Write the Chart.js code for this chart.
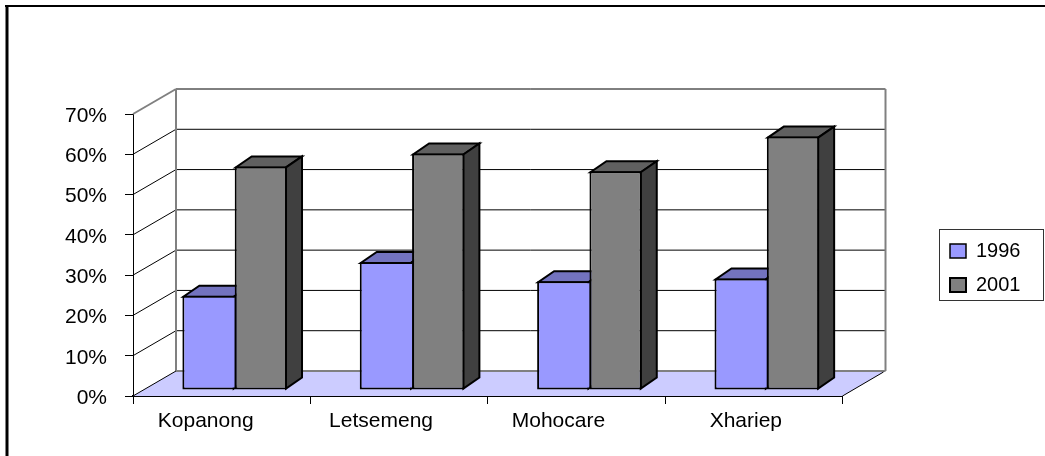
<!DOCTYPE html>
<html>
<head>
<meta charset="utf-8">
<script src="https://cdn.jsdelivr.net/npm/chart.js@4"></script>
<style>
html, body { margin: 0; padding: 0; background: #fff; overflow: hidden; }
#wrap { width: 1045px; height: 456px; }
</style>
</head>
<body>
<div id="wrap"><canvas id="myChart" width="1045" height="456"></canvas></div>
<script>
const categories = ['Kopanong', 'Letsemeng', 'Mohocare', 'Xhariep']
const years = ['1996', '2001']
const values1996 = [23.4, 31.8, 27.0, 27.7]
const values2001 = [55.5, 58.7, 54.3, 62.9]
const yTicks = [0, 10, 20, 30, 40, 50, 60, 70]

// oblique offsets of the fake 3D box
const wall = { dx: 43, dy: -25 }
const barShift = { dx: 13, dy: -6 }
const barDepth = { dx: 16, dy: -11 }
// the category labels are not centred under their slots in the original
const labelNudge = [-16, -18, -18, -8]
const fontFamily = '"Liberation Sans", Arial, sans-serif'
const axisFont = { family: fontFamily, size: 21 }
const legendFont = { family: fontFamily, size: 20 }

function poly(ctx, pts, fill, stroke, width) {
    ctx.beginPath()
    pts.forEach((p, i) => i ? ctx.lineTo(p[0], p[1]) : ctx.moveTo(p[0], p[1]))
    ctx.closePath()
    if (fill) { ctx.fillStyle = fill; ctx.fill() }
    if (stroke) { ctx.strokeStyle = stroke; ctx.lineWidth = width; ctx.stroke() }
}

function line(ctx, x1, y1, x2, y2, color, width) {
    ctx.beginPath()
    ctx.moveTo(x1, y1)
    ctx.lineTo(x2, y2)
    ctx.strokeStyle = color
    ctx.lineWidth = width
    ctx.stroke()
}

const box3d = {
    id: 'box3d',
    afterLayout(chart) {
        // legend sits away from the plot, move it to its own spot
        const l = chart.legend
        l.left = 936; l.right = 1044; l.width = 108
        l.top = 227; l.bottom = 456; l.height = 229
    },
    beforeDraw(chart) {
        const items = chart.scales.x.getLabelItems()
        items.forEach((item, i) => { item.options.translation[0] += labelNudge[i] })
    },
    beforeDatasetsDraw(chart) {
        const { ctx, chartArea: a, scales: { y } } = chart
        const d = wall
        ctx.save()
        ctx.lineCap = 'butt'

        // floor
        const y0 = y.getPixelForValue(0)
        poly(ctx, [[a.left, y0], [a.right, y0], [a.right + d.dx, y0 + d.dy], [a.left + d.dx, y0 + d.dy]], '#CCCCFF')

        // side wall and back wall grid
        yTicks.forEach(v => {
            const py = y.getPixelForValue(v)
            if (v > 0 && v < 70) line(ctx, a.left, py, a.left + d.dx, py + d.dy, '#000', 1)
            if (v > 0) line(ctx, a.left + d.dx, py + d.dy, a.right + d.dx, py + d.dy, '#000', 1)
        })
        const yTop = y.getPixelForValue(70)
        line(ctx, a.left, yTop, a.left + d.dx, yTop + d.dy, '#808080', 2)
        line(ctx, a.left + d.dx, yTop + d.dy, a.left + d.dx, y0 + d.dy, '#808080', 2)
        line(ctx, a.right + d.dx, yTop + d.dy, a.right + d.dx, y0 + d.dy, '#808080', 2)
        line(ctx, a.left + d.dx, y0 + d.dy, a.right + d.dx, y0 + d.dy, '#808080', 2)
        line(ctx, a.left, y0, a.left + d.dx, y0 + d.dy, '#000', 1)
        line(ctx, a.right, y0, a.right + d.dx - 2, y0 + d.dy + 1, '#000', 1)

        // tops and sides of the bars, the fronts come from chart.js
        ctx.translate(barShift.dx, barShift.dy)
        const faces = [['#7373BF', '#4D4D80'], ['#606060', '#404040']]
        const dd = barDepth
        chart.data.datasets.forEach((ds, i) => {
            chart.getDatasetMeta(i).data.forEach(bar => {
                const { x, y: top, base, width } = bar.getProps(['x', 'y', 'base', 'width'], true)
                const l = x - width / 2 + 1, r = x + width / 2 - 1
                poly(ctx, [[l, top + 1], [r, top + 1], [r + dd.dx, top + 1 + dd.dy], [l + dd.dx, top + 1 + dd.dy]], faces[i][0], '#000', 2)
                poly(ctx, [[r, top + 1], [r + dd.dx, top + 1 + dd.dy], [r + dd.dx, base - 1 + dd.dy], [r, base - 1]], faces[i][1], '#000', 2)
            })
        })
        ctx.restore()

        ctx.save()
        ctx.translate(barShift.dx, barShift.dy)
    },
    afterDatasetsDraw(chart) {
        chart.ctx.restore()
    },
    afterDraw(chart) {
        const { ctx } = chart
        ctx.save()
        // legend frame and the two page edges that show
        ctx.strokeStyle = '#333'
        ctx.lineWidth = 1
        ctx.strokeRect(939.5, 229.5, 104, 71)
        line(ctx, 7, 456, 7, 5, '#000', 3)
        line(ctx, 5, 6, 1045, 6, '#000', 2)
        ctx.restore()
    }
}

new Chart(document.getElementById('myChart'), {
    type: 'bar',
    data: {
        labels: categories,
        datasets: [
            { label: years[0], data: values1996, backgroundColor: '#9999FF', borderColor: '#000',
              borderWidth: { top: 2, right: 0, bottom: 2, left: 2 }, borderSkipped: false },
            { label: years[1], data: values2001, backgroundColor: '#808080', borderColor: '#000',
              borderWidth: 2, borderSkipped: false }
        ]
    },
    plugins: [box3d],
    options: {
        responsive: false,
        animation: false,
        events: [],
        layout: { padding: { left: 0, top: 114, right: 108, bottom: 0 } },
        datasets: { bar: { categoryPercentage: 0.59, barPercentage: 1 } },
        plugins: {
            title: { display: false },
            tooltip: { enabled: false },
            legend: {
                position: 'right',
                align: 'start',
                labels: {
                    color: '#000',
                    font: legendFont,
                    boxWidth: 16,
                    boxHeight: 14,
                    padding: 14
                }
            }
        },
        scales: {
            x: {
                grid: { drawOnChartArea: false, color: '#000', tickLength: 8, tickColor: '#000' },
                border: { color: '#000', width: 2 },
                ticks: { color: '#000', font: axisFont, maxRotation: 0, padding: 5 },
                afterFit(s) { s.height = 60 }
            },
            y: {
                min: 0,
                max: 70,
                afterBuildTicks(s) { s.ticks = yTicks.map(v => ({ value: v })) },
                grid: { drawOnChartArea: false, color: '#000', tickLength: 8, tickColor: '#000' },
                border: { color: '#000', width: 1 },
                ticks: { color: '#000', font: axisFont, padding: 18, labelOffset: 2, callback: v => v + '%' },
                afterFit(s) { s.width = 133 }
            }
        }
    }
})
</script>
</body>
</html>
